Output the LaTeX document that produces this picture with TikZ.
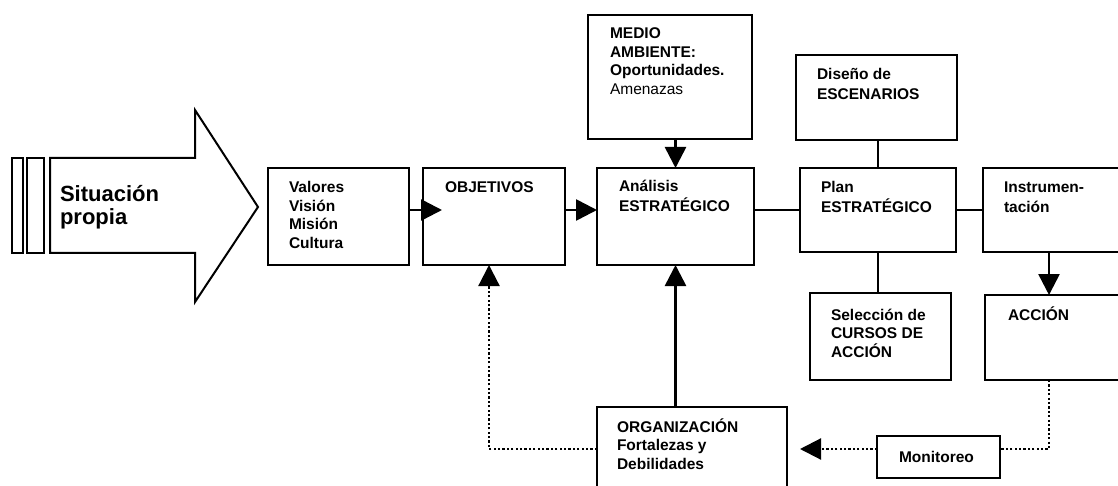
\documentclass[tikz,border=0pt]{standalone}
\usepackage{fontspec}
\setmainfont{Liberation Sans}
\usetikzlibrary{arrows.meta,calc}
\newcommand\mylines[1]{\begin{tabular}[t]{@{}l@{}}#1\end{tabular}}
\newcommand\mybox[5]{\node[box, minimum width={#4-#2}, minimum height={#5-#3}] (#1) at ({(#2+#4)/2},{(#3+#5)/2}) {};}
\tikzset{
  box/.style={draw, line width=2pt, inner sep=0pt, outer sep=0pt, fill=white},
  txt/.style={anchor=base west, inner sep=0pt, outer sep=0pt, font=\fontsize{15.5}{18.5}\selectfont\bfseries},
  txtwide/.style={txt, font=\fontsize{15.5}{19.5}\selectfont\bfseries},
  conn/.style={line width=2.6pt},
  arr/.style={conn, -{Triangle[length=21pt,width=21pt]}},
  dotarr/.style={line width=2.2pt, dash pattern=on 2.2pt off 2.2pt, -{Triangle[length=21pt,width=21pt]}},
  dotline/.style={line width=2.2pt, dash pattern=on 2.2pt off 2.2pt}
}
\begin{document}
\begin{tikzpicture}[x=1pt,y=-1pt]
\useasboundingbox (0,0) rectangle (1118,486);
\clip (0,0) rectangle (1118,486);
\fill[white] (0,0) rectangle (1118,486);

% big arrow
\draw[line width=2pt, line join=miter] (50,158) -- (195,158) -- (195,110) -- (258,207) -- (195,302) -- (195,253) -- (50,253) -- cycle;
\draw[line width=2pt] (12,158) rectangle (23,253);
\draw[line width=2pt] (27,158) rectangle (44,253);
\node[txt, font=\fontsize{22}{21}\selectfont\bfseries] (tsit) at (60,202) {\mylines{Situación\\propia}};

% boxes
\mybox{val}{268}{168}{409}{265}
\mybox{obj}{423}{168}{565}{265}
\mybox{ana}{597}{168}{754}{265}
\mybox{medio}{588}{15}{752}{139}
\mybox{dis}{796}{55}{957}{140}
\mybox{plan}{800}{168}{956}{252}
\mybox{instr}{983}{168}{1140}{252}
\mybox{sel}{810}{293}{951}{380}
\mybox{acc}{985}{295}{1140}{380}
\mybox{mon}{877}{436}{1000}{478}
\mybox{org}{597}{407}{787}{500}

% texts
\node[txt] (tval) at (289,193) {\mylines{Valores\\Visión\\Misión\\Cultura}};
\node[txt] (tobj) at (445,193) {OBJETIVOS};
\node[txtwide] (tana) at (619,192) {\mylines{Análisis\\ESTRATÉGICO}};
\node[txt] (tmedio) at (610,39) {\mylines{MEDIO\\AMBIENTE:\\Oportunidades.\\\mdseries Amenazas}};
\node[txtwide] (tdis) at (817,80) {\mylines{Diseño de\\ESCENARIOS}};
\node[txtwide] (tplan) at (821,193) {\mylines{Plan\\ESTRATÉGICO}};
\node[txtwide] (tinstr) at (1004,193) {\mylines{Instrumen-\\tación}};
\node[txt] (tsel) at (831,320) {\mylines{Selección de\\CURSOS DE\\ACCIÓN}};
\node[txt] (tacc) at (1008,320) {ACCIÓN};
\node[txt] (tmon) at (899,462) {Monitoreo};
\node[txt] (torg) at (617,432) {\mylines{ORGANIZACIÓN\\Fortalezas y\\Debilidades}};

% helper coordinates
\coordinate (ax) at (1049,0);
\coordinate (fb) at ([yshift=8pt]mon.west);
\coordinate (fbe) at ([yshift=8pt]mon.east);
\coordinate (oy) at ($(obj.south)+(-5,0)$);

% connectors
\draw[arr] (val.east |- plan.west) -- ($(obj.west |- plan.west)+(19,0)$);
\draw[arr] (obj.east |- plan.west) -- (ana.west |- plan.west);
\draw[arr] (medio.south -| ana.north) -- (ana.north);
\draw[conn] (ana.east |- plan.west) -- (plan.west);
\draw[conn] (dis.south -| plan.north) -- (plan.north);
\draw[conn] (plan.south) -- (sel.north -| plan.south);
\draw[conn] (plan.east) -- (instr.west);
\draw[arr] (instr.south -| ax) -- (acc.north -| ax);
\draw[arr] (org.north -| ana.south) -- (ana.south);
\draw[dotline] (acc.south -| ax) |- (fbe);
\draw[dotarr] (fb) -- ($(org.east |- fb)+(13,0)$);
\draw[dotarr] (org.west |- fb) -| (oy);
\end{tikzpicture}
\end{document}
